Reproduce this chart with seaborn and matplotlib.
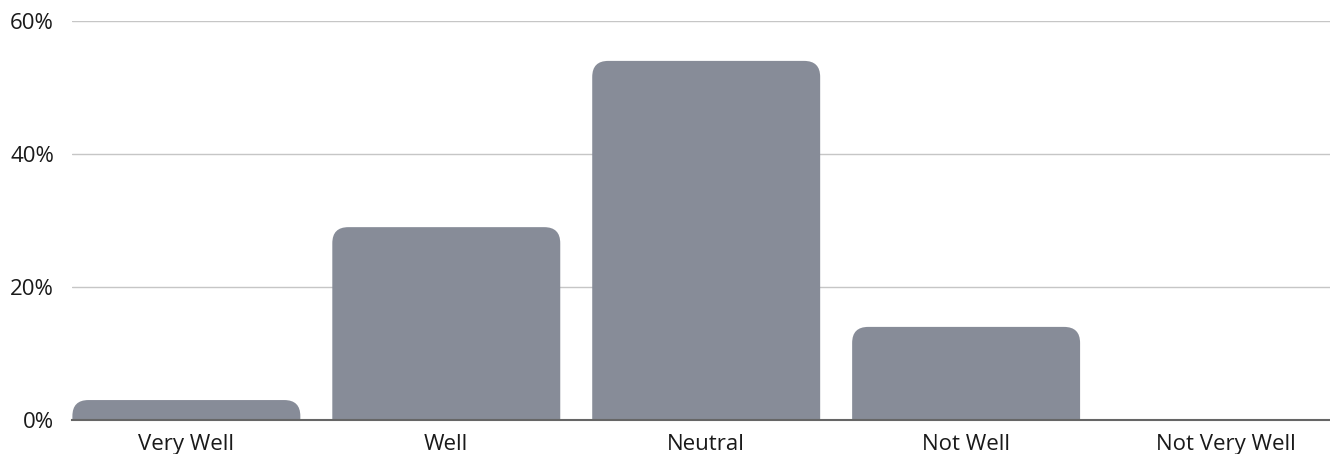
import matplotlib
matplotlib.use("Agg")
import matplotlib.pyplot as plt
import seaborn as sns
import pandas as pd
from matplotlib.patches import FancyBboxPatch
from matplotlib.ticker import FuncFormatter

categories = ["Very Well", "Well", "Neutral", "Not Well", "Not Very Well"]
shares = [3.0, 29.0, 54.0, 14.0, 0.0]
y_ticks = [0, 20, 40, 60]

df = pd.DataFrame({"answer": categories, "share": shares})

sns.set_theme(style="white")
plt.rcParams["font.family"] = ["Open Sans", "DejaVu Sans"]

fig = plt.figure(figsize=(13.3, 4.54), dpi=100)
ax = fig.add_axes([72 / 1330, 34 / 454, 1 - 72 / 1330, 399 / 454])

bar_color = "#878c98"
sns.barplot(data=df, x="answer", y="share", color=bar_color, width=0.877,
            saturation=1, ax=ax)

ax.set_xlim(-0.44, 4.40)
ax.set_ylim(0, 60)

# swap the plain bars for bars with rounded top corners
px_x = 1258 / 4.84
px_y = 399 / 60.0
radius_px = 16
aspect = px_x / px_y
for p in list(ax.patches):
    x0, w, h = p.get_x(), p.get_width(), p.get_height()
    p.set_visible(False)
    if h <= 0:
        continue
    r = radius_px / px_x
    extra = radius_px / px_y
    box = FancyBboxPatch((x0, -extra), w, h + extra,
                         boxstyle=f"round,pad=0,rounding_size={r}",
                         mutation_aspect=aspect,
                         facecolor=bar_color, edgecolor="none", zorder=2)
    ax.add_patch(box)

ax.set_yticks(y_ticks)
ax.yaxis.set_major_formatter(FuncFormatter(lambda v, _: f"{int(v)}%"))
ax.grid(axis="y", color="#c6c6c6", linewidth=1)
ax.set_axisbelow(True)
for s in ["top", "right", "left"]:
    ax.spines[s].set_visible(False)
ax.spines["bottom"].set_color("#666666")
ax.spines["bottom"].set_linewidth(1.5)
ax.spines["bottom"].set_zorder(3)

ax.tick_params(axis="y", length=0, pad=13, labelsize=16, labelcolor="#1a1a1a")
ax.tick_params(axis="x", length=0, pad=10, labelsize=16, labelcolor="#1a1a1a")
ax.set_xlabel("")
ax.set_ylabel("")

fig.savefig("out.png", dpi=100)
